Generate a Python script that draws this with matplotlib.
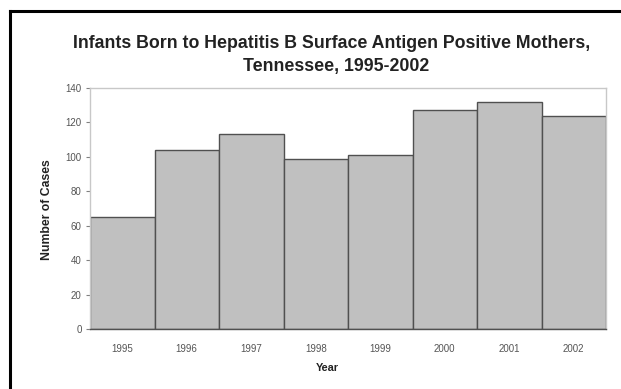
import matplotlib.pyplot as plt
from matplotlib.lines import Line2D

years = ["1995", "1996", "1997", "1998", "1999", "2000", "2001", "2002"]
cases = [65, 104, 113, 99, 101, 127, 132, 124]
y_ticks = [0, 20, 40, 60, 80, 100, 120, 140]

W, H = 621, 389

plt.rcParams["font.family"] = ["Liberation Sans", "DejaVu Sans"]

fig = plt.figure(figsize=(W / 100, H / 100), dpi=100)
fig.patch.set_facecolor("white")

# plot area in pixel coordinates
left, right, top, bottom = 90, 606, 88, 329
ax = fig.add_axes([left / W, 1 - bottom / H, (right - left) / W, (bottom - top) / H])

x = range(len(years))
ax.bar(x, cases, width=1.0, color="#c0c0c0", edgecolor="#505050", linewidth=1.0)

ax.set_xlim(-0.5, len(years) - 0.5)
ax.set_ylim(0, 140)
ax.set_yticks(y_ticks)
ax.set_xticks(list(x))
ax.set_xticklabels(years)

ax.tick_params(axis="y", length=3, width=0.8, color="#808080", labelsize=7,
               labelcolor="#555555", pad=3)
ax.tick_params(axis="x", length=0, labelsize=7, labelcolor="#555555", pad=11)

for side in ["top", "right", "left"]:
    ax.spines[side].set_color("#c8c8c8")
    ax.spines[side].set_linewidth(1.0)
ax.spines["bottom"].set_color("#505050")
ax.spines["bottom"].set_linewidth(1.0)

fig.text(332 / W, 1 - 43 / H, "Infants Born to Hepatitis B Surface Antigen Positive Mothers,",
         ha="center", va="center", fontsize=12.8, fontweight="bold", color="#222222")
fig.text(336 / W, 1 - 66 / H, "Tennessee, 1995-2002",
         ha="center", va="center", fontsize=12.8, fontweight="bold", color="#222222")

fig.text(47 / W, 1 - 210 / H, "Number of Cases", rotation=90, ha="center", va="center",
         fontsize=8.8, fontweight="bold", color="#222222")
fig.text(327 / W, 1 - 368 / H, "Year", ha="center", va="center",
         fontsize=7.8, fontweight="bold", color="#222222")

# black frame along the top and left edges
fig.add_artist(Line2D([10 / W, 1], [1 - 11 / H, 1 - 11 / H], color="black", linewidth=2.2,
                      transform=fig.transFigure))
fig.add_artist(Line2D([10 / W, 10 / W], [0, 1 - 11 / H], color="black", linewidth=2.2,
                      transform=fig.transFigure))

fig.savefig("out.png", dpi=100)
